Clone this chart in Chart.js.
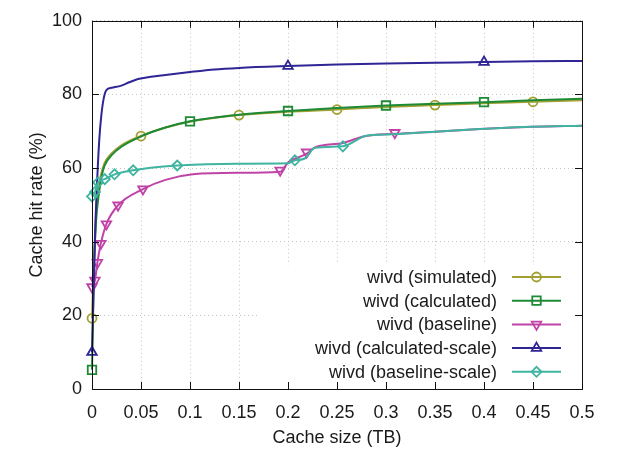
<!DOCTYPE html>
<html>
<head>
<meta charset="utf-8">
<script src="https://cdn.jsdelivr.net/npm/chart.js@4.4.0/dist/chart.umd.min.js"></script>
<style>
  html, body { margin: 0; padding: 0; background: #fff; }
</style>
</head>
<body>
<canvas id="chart" width="620" height="451"></canvas>
<script>
// tick labels
const xTicks = [0, 0.05, 0.1, 0.15, 0.2, 0.25, 0.3, 0.35, 0.4, 0.45, 0.5];
const yTicks = [0, 20, 40, 60, 80, 100];

const seriesNames = ['wivd (simulated)', 'wivd (calculated)', 'wivd (baseline)',
  'wivd (calculated-scale)', 'wivd (baseline-scale)'];

// [cache size TB, hit rate %]
const simulated = [[0,19.2],[0.002,35],[0.004,47],[0.006,53],[0.009,58],[0.013,61.5],[0.02,64],
  [0.03,66.2],[0.05,68.7],[0.075,71],[0.1,72.6],[0.15,74.4],[0.2,75.3],[0.25,75.9],[0.3,76.6],
  [0.35,77.1],[0.4,77.6],[0.45,78.0],[0.5,78.4]];
const simulatedMarks = [[0,19.2],[0.05,68.7],[0.15,74.4],[0.25,75.9],[0.35,77.1],[0.45,78.0]];

const calculated = [[0,5.2],[0.001,20],[0.002,33],[0.004,45],[0.007,53],[0.01,58],[0.013,60.8],
  [0.02,63.5],[0.03,65.8],[0.05,68.6],[0.075,71],[0.1,72.7],[0.15,74.5],[0.2,75.5],[0.25,76.3],
  [0.3,77.0],[0.35,77.5],[0.4,77.9],[0.45,78.4],[0.5,78.8]];
const calculatedMarks = [[0,5.2],[0.1,72.7],[0.2,75.5],[0.3,77.0],[0.4,77.9]];

const baseline = [[0,27.7],[0.003,29.5],[0.0055,34.3],[0.009,39.5],[0.0147,44.8],[0.0266,49.9],
  [0.052,54.3],[0.075,56.8],[0.103,58.3],[0.15,58.7],[0.192,59.0],[0.2,61.5],[0.219,63.9],
  [0.2275,65.6],[0.256,66.8],[0.277,68.6],[0.309,69.3],[0.35,69.9],[0.396,70.6],[0.45,71.2],[0.5,71.5]];
const baselineMarks = [[0,27.7],[0.003,29.5],[0.0055,34.3],[0.009,39.5],[0.0147,44.8],[0.0266,49.9],
  [0.052,54.3],[0.192,59.4],[0.219,64.3],[0.309,69.6]];

const calcScale = [[0,10],[0.002,30],[0.0035,45],[0.0055,58],[0.0075,68],[0.0096,74.5],[0.012,79],
  [0.0147,81.2],[0.02,81.8],[0.03,82.4],[0.038,83.3],[0.047,84.2],[0.06,84.8],[0.075,85.3],
  [0.1,86.1],[0.125,86.8],[0.15,87.2],[0.2,87.7],[0.25,88.1],[0.3,88.4],[0.35,88.6],[0.4,88.8],
  [0.45,89.0],[0.5,89.1]];
const calcScaleMarks = [[0,10],[0.2,87.7],[0.4,88.8]];

const baseScale = [[0,52.3],[0.003,53.5],[0.0062,56.1],[0.013,57.0],[0.023,58.3],[0.042,59.4],
  [0.06,60.1],[0.087,60.7],[0.147,61.2],[0.2,61.3],[0.207,62.1],[0.217,62.6],[0.2275,65.5],
  [0.256,65.9],[0.28,68.8],[0.307,69.2],[0.362,70.1],[0.447,71.2],[0.5,71.5]];
const baseScaleMarks = [[0,52.3],[0.003,53.5],[0.0062,56.1],[0.013,57.0],[0.023,58.3],[0.042,59.4],
  [0.087,60.7],[0.207,62.1],[0.256,65.9]];

const colors = ['#a3a033', '#1f8a35', '#c044a8', '#2f2595', '#3fb4a0'];
const styles = [
  {pointStyle: 'circle', radius: 4.5, rotation: 0},
  {pointStyle: 'rect', radius: 6, rotation: 0},
  {pointStyle: 'triangle', radius: 5.5, rotation: 180},
  {pointStyle: 'triangle', radius: 5.5, rotation: 0},
  {pointStyle: 'rectRot', radius: 5, rotation: 0}
];
const lines = [simulated, calculated, baseline, calcScale, baseScale];
const marks = [simulatedMarks, calculatedMarks, baselineMarks, calcScaleMarks, baseScaleMarks];

const textColor = '#1a1a1a';
const fontFamily = '"Liberation Sans", Arial, Helvetica, sans-serif';

const datasets = [];
lines.forEach((pts, i) => {
  datasets.push({
    label: seriesNames[i],
    data: pts,
    showLine: true,
    borderColor: colors[i],
    borderWidth: 2,
    pointRadius: 0,
    tension: 0.3,
    cubicInterpolationMode: 'monotone',
    clip: false,
    order: 4 - i
  });
  datasets.push({
    label: seriesNames[i] + ' marks',
    data: marks[i],
    showLine: false,
    borderColor: colors[i],
    pointBorderColor: colors[i],
    pointBackgroundColor: 'rgba(255,255,255,0)',
    pointBorderWidth: 1.8,
    pointStyle: styles[i].pointStyle,
    pointRadius: styles[i].radius,
    pointRotation: styles[i].rotation,
    clip: false,
    order: 4 - i
  });
});

// legend box in the lower right corner, gnuplot style (text, then sample)
const keyPlugin = {
  id: 'keyBox',
  afterDatasetsDraw(chart) {
    const ctx = chart.ctx, a = chart.chartArea;
    ctx.save();
    ctx.fillStyle = '#fff';
    ctx.fillRect(a.left + 166, a.bottom - 124, a.right - a.left - 166, 124);
    ctx.font = '18px ' + fontFamily;
    ctx.textAlign = 'right';
    ctx.textBaseline = 'middle';
    seriesNames.forEach((name, i) => {
      const y = a.bottom - 112 + i * 23.7;
      ctx.fillStyle = textColor;
      ctx.fillText(name, a.right - 85, y + 1);
      ctx.strokeStyle = colors[i];
      ctx.lineWidth = 2;
      ctx.beginPath();
      ctx.moveTo(a.right - 70, y);
      ctx.lineTo(a.right - 21, y);
      ctx.stroke();
      ctx.lineWidth = 1.8;
      ctx.fillStyle = 'rgba(255,255,255,0)';
      Chart.helpers.drawPoint(ctx, {
        pointStyle: styles[i].pointStyle,
        radius: styles[i].radius,
        rotation: styles[i].rotation,
        borderWidth: 1.8
      }, a.right - 45.5, y);
    });
    ctx.restore();
  },
  afterDraw(chart) {
    // frame with inward ticks on all four sides
    const ctx = chart.ctx, a = chart.chartArea;
    const xs = chart.scales.x, ys = chart.scales.y;
    ctx.save();
    ctx.strokeStyle = '#111';
    ctx.lineWidth = 1;
    ctx.strokeRect(Math.round(a.left) + 0.5, Math.round(a.top) + 0.5,
      Math.round(a.right - a.left), Math.round(a.bottom - a.top));
    ctx.beginPath();
    xTicks.forEach(v => {
      const px = Math.round(xs.getPixelForValue(v)) + 0.5;
      ctx.moveTo(px, a.bottom); ctx.lineTo(px, a.bottom - 7);
      ctx.moveTo(px, a.top); ctx.lineTo(px, a.top + 7);
    });
    yTicks.forEach(v => {
      const py = Math.round(ys.getPixelForValue(v)) + 0.5;
      ctx.moveTo(a.left, py); ctx.lineTo(a.left + 7, py);
      ctx.moveTo(a.right, py); ctx.lineTo(a.right - 7, py);
    });
    ctx.stroke();
    ctx.restore();
  }
};

new Chart(document.getElementById('chart'), {
  type: 'scatter',
  data: { datasets: datasets },
  options: {
    responsive: false,
    animation: false,
    layout: { padding: { top: 14, right: 38, bottom: 0, left: 0 } },
    plugins: { legend: { display: false }, tooltip: { enabled: false } },
    scales: {
      x: {
        type: 'linear',
        min: 0, max: 0.5,
        afterBuildTicks: s => { s.ticks = xTicks.map(v => ({value: v})); },
        afterFit: s => { s.height = 62; },
        grid: { color: '#c4c4c4', drawTicks: false },
        border: { display: false, dash: [1, 3] },
        ticks: {
          padding: 13,
          color: textColor,
          font: { size: 18, family: fontFamily },
          maxRotation: 0,
          callback: v => String(+(+v).toFixed(2))
        },
        title: {
          display: true, text: 'Cache size (TB)', color: textColor,
          font: { size: 18, family: fontFamily }, padding: { top: 0, bottom: 2 }
        }
      },
      y: {
        min: 0, max: 100,
        afterBuildTicks: s => { s.ticks = yTicks.map(v => ({value: v})); },
        afterFit: s => { s.width = 92; },
        grid: { color: '#c4c4c4', drawTicks: false },
        border: { display: false, dash: [1, 3] },
        ticks: {
          padding: 10,
          color: textColor,
          font: { size: 18, family: fontFamily }
        },
        title: {
          display: true, text: 'Cache hit rate (%)', color: textColor,
          font: { size: 18, family: fontFamily }, padding: { top: 26, bottom: 0 }
        }
      }
    }
  },
  plugins: [keyPlugin]
});
</script>
</body>
</html>
